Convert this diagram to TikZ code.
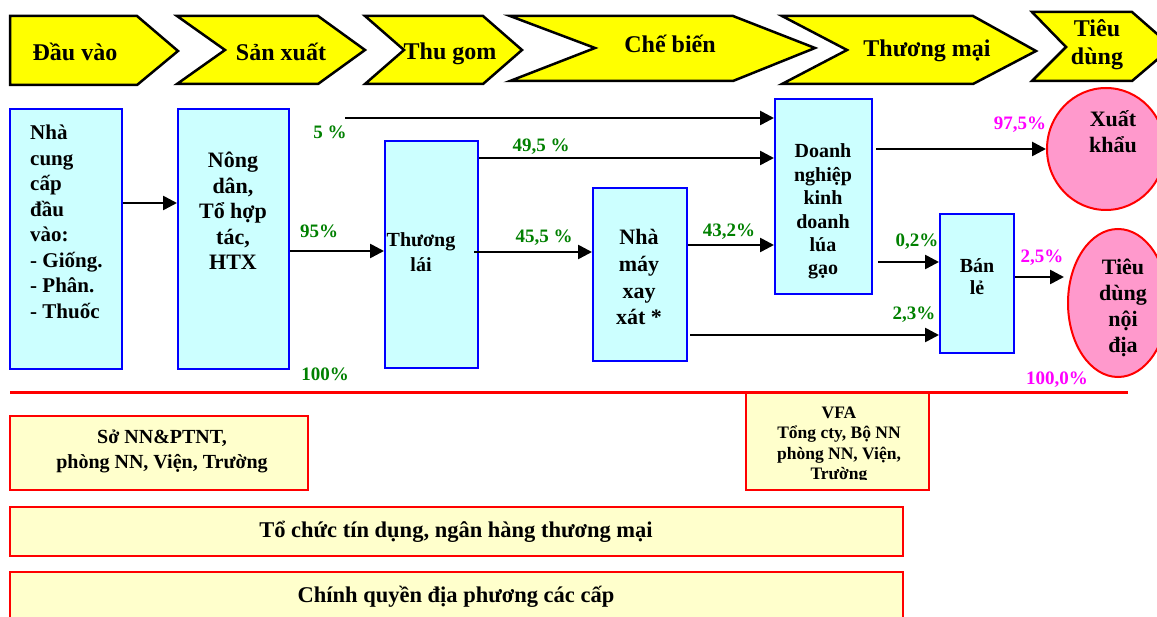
\documentclass[tikz,border=0pt]{standalone}
\usepackage{fontspec}
\setmainfont{Liberation Serif}
\usetikzlibrary{arrows.meta,shapes.geometric}
\definecolor{cyanfill}{HTML}{CCFFFF}
\definecolor{pinkfill}{HTML}{FF99CC}
\definecolor{creamfill}{HTML}{FFFFCC}
\definecolor{pctgreen}{HTML}{008000}
\definecolor{pctmag}{HTML}{FF00FF}
\definecolor{boxblue}{HTML}{0000FF}
\definecolor{chevyellow}{HTML}{FFFF00}
\tikzset{
  chev/.style={draw=black, line width=2.5pt, fill=chevyellow},
  txt/.style 2 args={inner sep=0pt, align=center, font=\fontsize{#1}{#2}\selectfont\bfseries},
  bluebox/.style={rectangle, draw=boxblue, line width=2pt, fill=cyanfill, inner sep=0pt},
  pinkell/.style={ellipse, draw=red, line width=2pt, fill=pinkfill, inner sep=0pt},
  orgbox/.style={rectangle, draw=red, line width=2pt, fill=creamfill, inner sep=0pt},
  arr/.style={line width=2.6pt, -{Triangle[length=14pt,width=14pt]}},
  pct/.style={inner sep=0pt, anchor=base, font=\fontsize{19}{22}\selectfont\bfseries, text=pctgreen},
  pctm/.style={pct, text=pctmag},
}
\begin{document}
\begin{tikzpicture}[x=1pt,y=-1pt]
\useasboundingbox (0,0) rectangle (1157,617);
\clip (0,0) rectangle (1157,617);

% ---------- chevrons ----------
\draw[chev] (10,16) -- (137,16) -- (178,51) -- (137,85) -- (10,85) -- cycle;
\draw[chev] (177,16) -- (318,16) -- (365,50) -- (318,84) -- (177,84) -- (225,50) -- cycle;
\draw[chev] (365,16) -- (483,16) -- (522,50) -- (483,84) -- (365,84) -- (404,50) -- cycle;
\draw[chev] (510,16) -- (733,16) -- (815,48) -- (733,81) -- (510,81) -- (595,48) -- cycle;
\draw[chev] (782,16) -- (973,16) -- (1036,51) -- (973,84) -- (782,84) -- (847,50) -- cycle;
\draw[chev] (1032,12) -- (1132,12) -- (1172,47) -- (1132,81) -- (1032,81) -- (1066,47) -- cycle;

% (multi-line nodes: anchor=base is the baseline of the last line)
\node[txt={24}{28}, anchor=base] (h1) at (75,61) {Đầu vào};
\node[txt={24}{28}, anchor=base] (h2) at (281,61) {Sản xuất};
\node[txt={24}{28}, anchor=base] (h3) at (450,60) {Thu gom};
\node[txt={24}{28}, anchor=base] (h4) at (670,53) {Chế biến};
\node[txt={24}{28}, anchor=base] (h5) at (927,57) {Thương mại};
\node[txt={24}{28}, anchor=base] (h6) at (1097,65) {Tiêu\\dùng};

% ---------- chain boxes ----------
\node[bluebox, minimum width=112, minimum height=260] (n1) at (66,239) {};
\node[bluebox, minimum width=111, minimum height=260] (n2) at (233.5,239) {};
\node[bluebox, minimum width=93, minimum height=227] (n3) at (431.5,254.5) {};
\node[bluebox, minimum width=94, minimum height=173] (n4) at (640,274.5) {};
\node[bluebox, minimum width=97, minimum height=195] (n5) at (823.5,196.5) {};
\node[bluebox, minimum width=74, minimum height=139] (n6) at (977,283.5) {};
\node[pinkell, minimum width=118, minimum height=122] (e1) at (1106,149) {};
\node[pinkell, minimum width=100, minimum height=148] (e2) at (1118,303) {};

\node[txt={21}{25.5}, align=left, anchor=base west] (t1) at (30,318.5)
  {Nhà\\cung\\cấp\\đầu\\vào:\\- Giống.\\- Phân.\\- Thuốc};
\node[txt={22}{25.5}, anchor=base] (t2) at (233,270) {Nông\\dân,\\Tổ hợp\\tác,\\HTX};
\node[txt={20}{25}, anchor=base] (t3) at (421,272) {Thương\\lái};
\node[txt={22}{26.7}, anchor=base] (t4) at (639,325) {Nhà\\máy\\xay\\xát *};
\node[txt={20}{23.4}, anchor=base] (t5) at (823,275) {Doanh\\nghiệp\\kinh\\doanh\\lúa\\gạo};
\node[txt={20}{22}, anchor=base] (t6) at (977,295) {Bán\\lẻ};
\node[txt={22}{26}, anchor=base] (t7) at (1113,153) {Xuất\\khẩu};
\node[txt={22}{26.3}, anchor=base] (t8) at (1123,353) {Tiêu\\dùng\\nội\\địa};

% ---------- connectors ----------
\coordinate (s5) at (345,118);
\coordinate (yB) at (0,158);
\coordinate (yC) at (0,203);
\coordinate (yD) at (0,251);
\coordinate (yE) at (0,252);
\coordinate (yF) at (0,245);
\coordinate (yG) at (0,149);
\coordinate (yH) at (0,262);
\coordinate (yI) at (0,335);
\coordinate (yJ) at (0,277);

\draw[arr] (n1.east |- yC) -- (n2.west |- yC);
\draw[arr] (n2.east |- yD) -- (n3.west |- yD);
\draw[arr] (s5) -- (n5.west |- s5);
\draw[arr] (n3.east |- yB) -- (n5.west |- yB);
\draw[arr] ([xshift=-5pt]n3.east |- yE) -- (n4.west |- yE);
\draw[arr] (n4.east |- yF) -- (n5.west |- yF);
\draw[arr] ([xshift=3pt]n5.east |- yG) -- (e1.west |- yG);
\draw[arr] ([xshift=5pt]n5.east |- yH) -- (n6.west |- yH);
\draw[arr] ([xshift=2pt]n4.east |- yI) -- (n6.west |- yI);
\draw[arr] (n6.east |- yJ) -- ([xshift=-3pt]e2.west |- yJ);

% ---------- percentages ----------
\node[pct] (p1) at (330,139) {5 \%};
\node[pct] (p2) at (319,238) {95\%};
\node[pct] (p3) at (325,381) {100\%};
\node[pct] (p4) at (541,152) {49,5 \%};
\node[pct] (p5) at (544,243) {45,5 \%};
\node[pct] (p6) at (729,237) {43,2\%};
\node[pctm] (p7) at (1020,130) {97,5\%};
\node[pct] (p8) at (917,247) {0,2\%};
\node[pct] (p9) at (914,320) {2,3\%};
\node[pctm] (p10) at (1042,263) {2,5\%};
\node[pctm] (p11) at (1057,385) {100,0\%};

% ---------- support organisations ----------
\node[orgbox, minimum width=298, minimum height=74] (b1) at (159,453) {};
\node[orgbox, minimum width=183, minimum height=97] (b2) at (837.5,441.5) {};
\node[orgbox, minimum width=893, minimum height=49] (b3) at (456.5,531.5) {};
\node[orgbox, minimum width=893, minimum height=68] (b4) at (456.5,606) {};
\draw[red, line width=3pt] (10,393) -- (1128,393);

\node[txt={20}{25}, anchor=base] (u1) at (162,468) {Sở NN\&PTNT,\\phòng NN, Viện, Trường};
\begin{scope}
  \clip (746,393) rectangle (929,479);
  \node[txt={17.5}{20.5}, anchor=base] (u2) at (839,479.5) {VFA\\Tổng cty, Bộ NN\\phòng NN, Viện,\\Trường};
\end{scope}
\node[txt={22.5}{26}, anchor=base] (u3) at (456,537) {Tổ chức tín dụng, ngân hàng thương mại};
\node[txt={22.5}{26}, anchor=base] (u4) at (456,602) {Chính quyền địa phương các cấp};
\end{tikzpicture}
\end{document}
